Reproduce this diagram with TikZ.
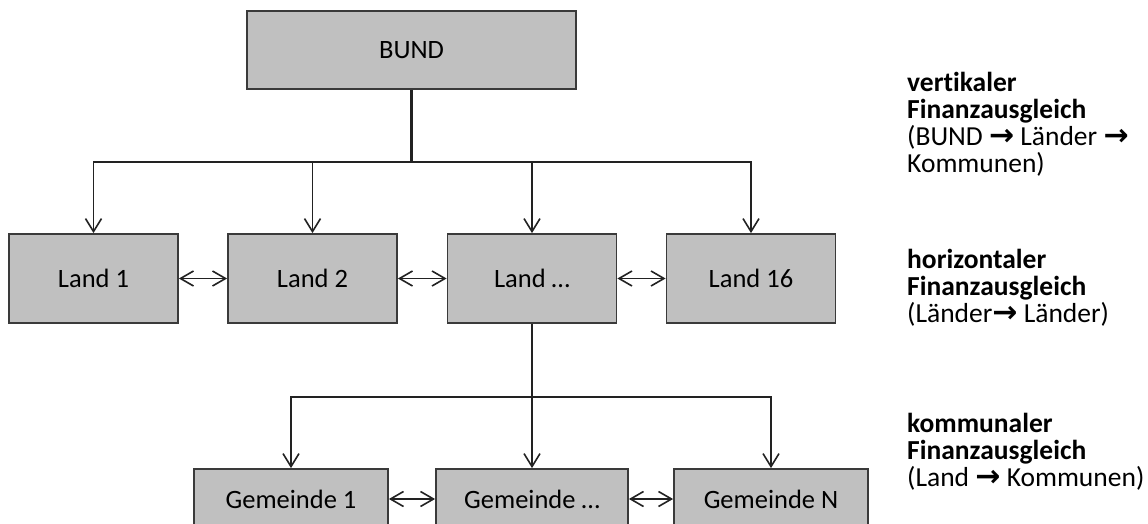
\documentclass[tikz,border=0pt]{standalone}
\usepackage{fontspec}
\setmainfont{Carlito}[Ligatures=NoCommon]
\newfontfamily\arrowfont{DejaVu Sans}
\usetikzlibrary{arrows.meta}
\definecolor{boxfill}{HTML}{C0C0C0}
\definecolor{boxline}{HTML}{3A3A3A}
\definecolor{connline}{HTML}{222222}
\newcommand{\rarr}{{\arrowfont\bfseries\fontsize{30}{27}\selectfont →}}
\begin{document}
\begin{tikzpicture}[x=1pt,y=-1pt,
  box/.style={draw=boxline, line width=1.8pt, fill=boxfill, inner sep=0pt,
    font=\fontsize{26.5}{30}\selectfont},
  conn/.style={draw=connline, line width=1.6pt},
  arr/.style={conn, -{Straight Barb[length=13pt,width=16pt,line width=1.6pt]}},
  darr/.style={conn, {Straight Barb[length=13pt,width=15pt,line width=1.6pt]}-{Straight Barb[length=13pt,width=15pt,line width=1.6pt]}},
  side/.style={anchor=base west, align=left, inner sep=0pt,
    font=\fontsize{27.5}{27}\selectfont}
]
\clip (0,0) rectangle (1148,524);
\fill[white] (0,0) rectangle (1148,524);

% boxes
\node[box, minimum width=329pt, minimum height=78pt] (bund) at (411.5,50) {BUND};
\node[box, minimum width=169pt, minimum height=89pt] (land1) at (93.5,278.5) {Land 1};
\node[box, minimum width=169pt, minimum height=89pt] (land2) at (312.5,278.5) {Land 2};
\node[box, minimum width=169pt, minimum height=89pt] (land3) at (532,278.5) {Land \dots};
\node[box, minimum width=169pt, minimum height=89pt] (land16) at (751,278.5) {Land 16};
\node[box, minimum width=194pt, minimum height=60pt] (g1) at (291,499) {Gemeinde 1};
\node[box, minimum width=192pt, minimum height=60pt] (g2) at (532,499) {Gemeinde \dots};
\node[box, minimum width=194pt, minimum height=60pt] (gn) at (771,499) {Gemeinde N};

% junctions
\coordinate (j1) at (411.5,162);
\coordinate (j2) at (532,397);

% vertical connectors
\draw[conn, line width=2.4pt] (bund.south) -- (j1);
\draw[arr] (j1) -| (land1.north);
\draw[arr] (j1) -| (land2.north);
\draw[arr] (j1) -| (land3.north);
\draw[arr] (j1) -| (land16.north);
\draw[conn] (land3.south) -- (j2);
\draw[arr] (j2) -| (g1.north);
\draw[arr] (j2) -- (g2.north);
\draw[arr] (j2) -| (gn.north);

% horizontal exchanges
\draw[darr] (land1.east) -- (land2.west);
\draw[darr] (land2.east) -- (land3.west);
\draw[darr] (land3.east) -- (land16.west);
\draw[darr] (g1.east) -- (g2.west);
\draw[darr] (g2.east) -- (gn.west);

% side labels (anchored at the baseline of their last line)
\node[side] (t1) at (907,172) {\textbf{vertikaler}\\\textbf{Finanzausgleich}\\(BUND \rarr{} Länder \rarr\\Kommunen)};
\node[side] (t2) at (907,322) {\textbf{horizontaler}\\\textbf{Finanzausgleich}\\(Länder\rarr{} Länder)};
\node[side] (t3) at (907,486) {\textbf{kommunaler}\\\textbf{Finanzausgleich}\\(Land \rarr{} Kommunen)};
\end{tikzpicture}
\end{document}
